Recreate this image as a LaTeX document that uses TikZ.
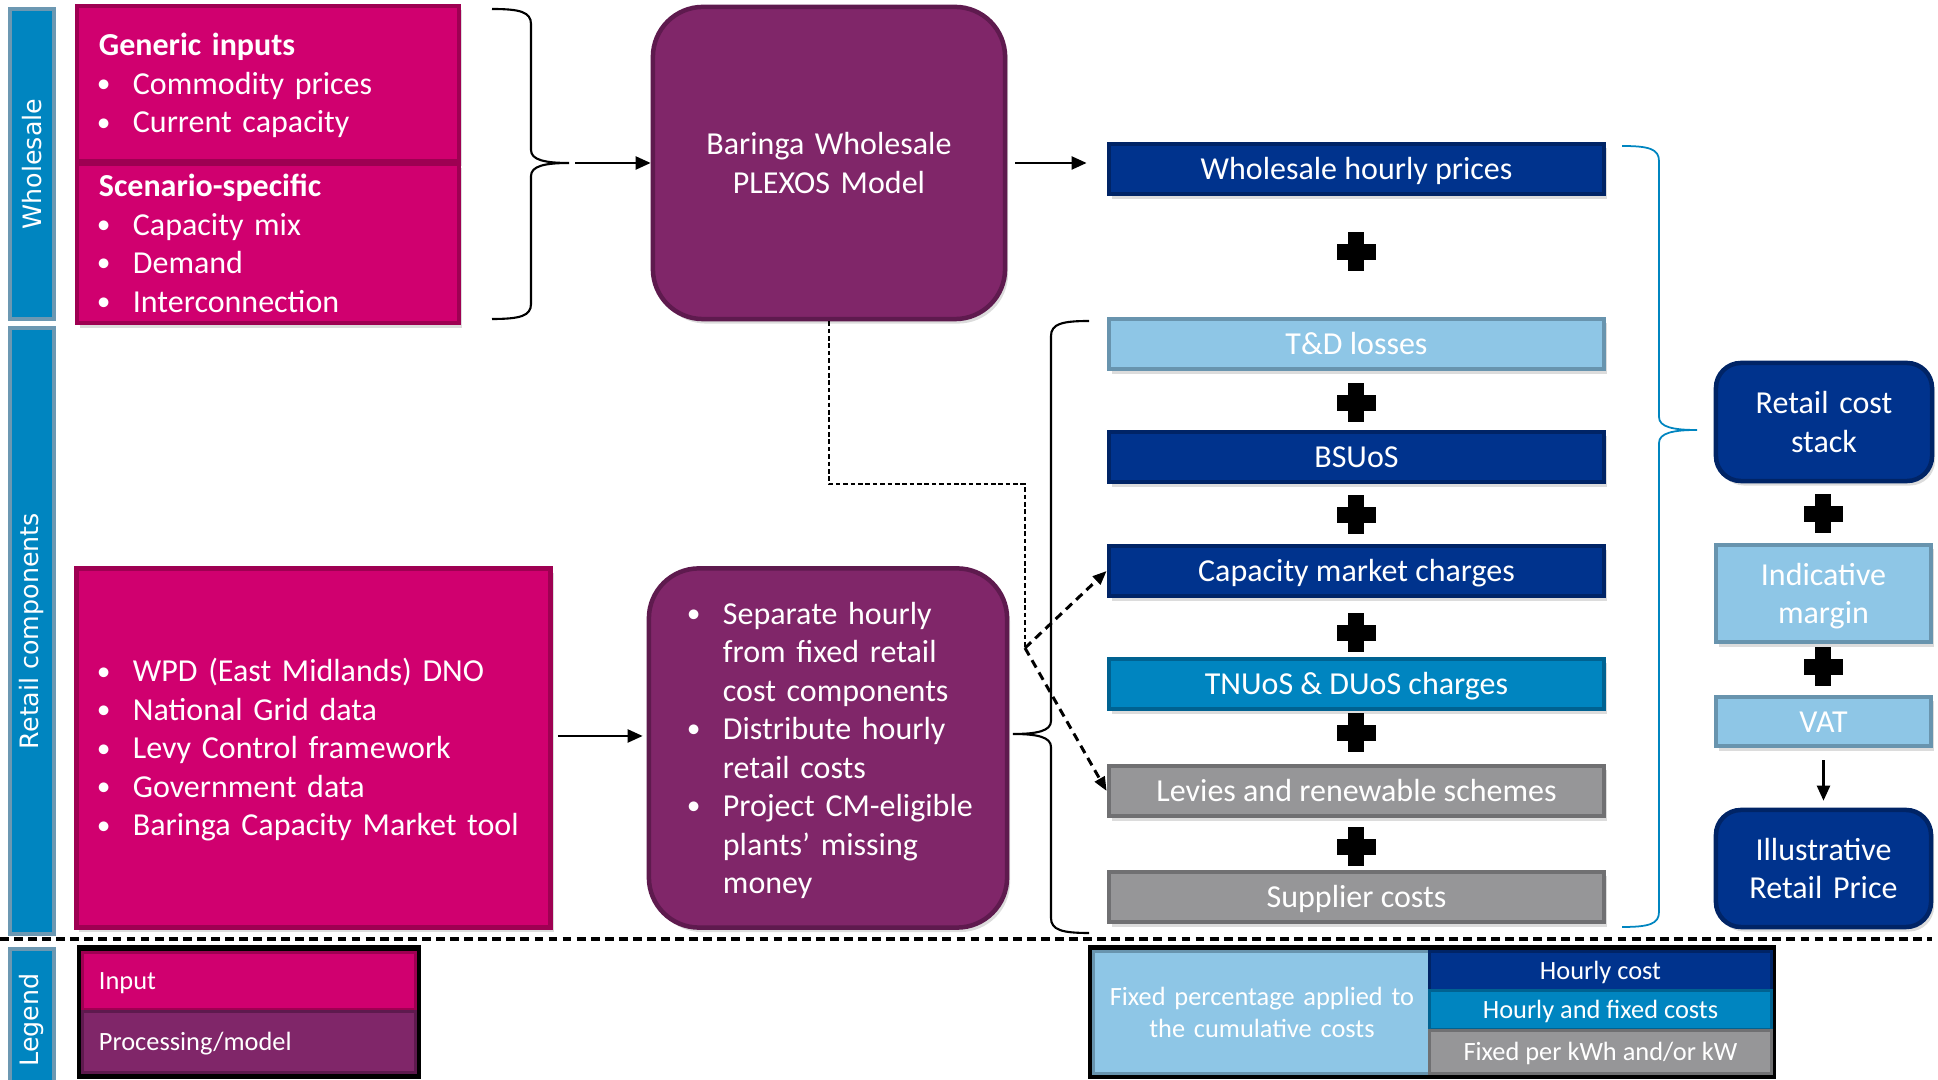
\documentclass[tikz,border=0pt]{standalone}
\usepackage{fontspec}
\setmainfont{Carlito}
\newfontfamily\rotulo{DejaVu Sans}
\usetikzlibrary{arrows.meta,shadows}

\definecolor{cMagenta}{RGB}{208,0,111}
\definecolor{cMagentaB}{RGB}{158,0,82}
\definecolor{cPurpura}{RGB}{128,38,105}
\definecolor{cPurpuraB}{RGB}{94,26,78}
\definecolor{cAzulOsc}{RGB}{0,51,141}
\definecolor{cAzulOscB}{RGB}{0,36,102}
\definecolor{cAzulMed}{RGB}{0,133,192}
\definecolor{cAzulMedB}{RGB}{0,98,145}
\definecolor{cAzulCla}{RGB}{142,198,230}
\definecolor{cAzulClaB}{RGB}{104,148,174}
\definecolor{cGris}{RGB}{150,150,152}
\definecolor{cGrisB}{RGB}{112,112,114}
\definecolor{cBarraB}{RGB}{108,152,178}

\newcommand{\punto}{\makebox[.34cm][l]{\hspace*{-.02cm}\raisebox{.5pt}{\fontsize{7.8}{7.8}\selectfont\textbullet}}}
\newcommand{\sangria}{\hspace*{.34cm}}
% alto y profundidad de la primera y la última línea
\newcommand{\tope}{\rule{0pt}{.952em}}
\newcommand{\fondo}{\rule[-.269em]{0pt}{.269em}}

\tikzset{
  barra/.style={rotate=90, fill=cAzulMed, draw=cBarraB, line width=.04cm, text=white,
    minimum height=.44cm, inner sep=0pt, font=\rotulo\fontsize{7.2}{8}\selectfont},
  caja/.style={line width=.045cm, text=white, inner sep=0pt, font=\fontsize{9.1}{10.95}\selectfont,
    drop shadow={shadow xshift=.03cm, shadow yshift=-.045cm, opacity=.28}},
  linea/.style={text height=8.66pt, text depth=2.45pt},
  entrada/.style={caja, fill=cMagenta, draw=cMagentaB},
  proceso/.style={caja, fill=cPurpura, draw=cPurpuraB, rounded corners=.5cm},
  horaria/.style={caja, fill=cAzulOsc, draw=cAzulOscB},
  mixta/.style={caja, fill=cAzulMed, draw=cAzulMedB},
  fija/.style={caja, fill=cGris, draw=cGrisB},
  porcentaje/.style={caja, fill=cAzulCla, draw=cAzulClaB},
  fila/.style={linea, minimum width=4.95cm, minimum height=.5cm},
  celda/.style={inner sep=0pt, text=white, line width=.03cm, font=\fontsize{7.5}{9.1}\selectfont},
  lineachica/.style={text height=7.14pt, text depth=2.02pt},
  marco/.style={fill=black, inner sep=0pt, minimum height=1.34cm},
  flecha/.style={-{Triangle[length=.15cm,width=.13cm]}, line width=.65pt},
  guia/.style={dash pattern=on 1.3pt off .8pt, line width=.5pt},
  guiaflecha/.style={-{Triangle[length=.14cm,width=.11cm]}, dash pattern=on 2.4pt off 1.6pt, line width=.85pt},
  llave/.style={line width=.6pt},
  llaveazul/.style={line width=.5pt, draw=cAzulMed},
  separador/.style={dash pattern=on 2.5pt off 1.5pt, line width=.9pt},
  mas/.pic={\fill (-19.5,-8) rectangle (19.5,8); \fill (-8,-19.5) rectangle (8,19.5);}
}

\begin{document}
\begin{tikzpicture}[x=.01cm, y=-.01cm]
        \useasboundingbox (0,0) rectangle (1938,1080);

        % Paso 1: Barras laterales de cada sección
        \node[barra, minimum width=3.1cm] (barraW) at (32,164) {Wholesale};
        \node[barra, minimum width=6.06cm] (barraR) at (32,631) {Retail components};
        \node[barra, minimum width=1.42cm] (barraL) at (32,1020) {Legend};

        % Paso 2: Insumos del modelo mayorista
        \node[entrada, minimum width=3.82cm, minimum height=1.55cm, text width=3.38cm, align=left] (generico) at (268,83.5)
            {\tope\textbf{Generic inputs}\\ \punto Commodity prices\\ \punto Current capacity\fondo};
        \node[entrada, minimum width=3.82cm, minimum height=1.59cm, text width=3.38cm, align=left] (escenario) at (268,243.5)
            {\tope\textbf{Scenario-specific}\\ \punto Capacity mix\\ \punto Demand\\ \punto Interconnection\fondo};

        % Paso 3: Llave y flecha hacia el modelo PLEXOS
        \coordinate (puntaW) at (569,163);
        \draw[llave] (492,9) .. controls (520,9) and (531,12) .. (531,24) -- (531,150)
            .. controls (531,160) and (545,163) .. (puntaW)
            .. controls (545,163) and (531,166) .. (531,176) -- (531,304)
            .. controls (531,316) and (520,319) .. (492,319);
        \node[proceso, minimum width=3.52cm, minimum height=3.12cm, text width=3.2cm, align=center] (plexos) at (829,163)
            {\tope Baringa Wholesale\\PLEXOS Model\fondo};
        \draw[flecha, shorten <=.06cm] (puntaW) -- (plexos.west);

        % Paso 4: Insumos y procesamiento minorista
        \node[entrada, minimum width=4.74cm, minimum height=3.59cm, text width=4.29cm, align=left] (insumos) at (313.5,748)
            {\tope\punto WPD (East Midlands) DNO\\ \punto National Grid data\\ \punto Levy Control framework\\
             \punto Government data\\ \punto Baringa Capacity Market tool\fondo};
        \node[proceso, minimum width=3.58cm, minimum height=3.59cm, text width=2.78cm, align=left] (separar) at (828,748)
            {\tope\punto Separate hourly\\ \sangria from fixed retail\\ \sangria cost components\\
             \punto Distribute hourly\\ \sangria retail costs\\ \punto \mbox{Project CM-eligible}\\
             \sangria plants’ missing\\ \sangria money\fondo};
        \draw[flecha, shorten <=.05cm, shorten >=.04cm] ([yshift=.12cm]insumos.east) -- ([yshift=.12cm]separar.west);

        % Paso 5: Pila de costos mayoristas y minoristas
        \node[horaria, fila] (mayorista) at (1356.5,169) {Wholesale hourly prices};
        \node[porcentaje, fila] (perdidas) at (1356.5,344) {T\&D losses};
        \node[horaria, fila] (bsuos) at (1356.5,457) {BSUoS};
        \node[horaria, fila] (capacidad) at (1356.5,571) {Capacity market charges};
        \node[mixta, fila] (redes) at (1356.5,684) {TNUoS \& DUoS charges};
        \node[fija, fila] (gravamenes) at (1356.5,791) {Levies and renewable schemes};
        \node[fija, fila] (proveedor) at (1356.5,897) {Supplier costs};
        \foreach \y in {252,403,515,633,733,847}
            \pic at (1356,\y) {mas};
        \draw[flecha, shorten <=.08cm, shorten >=.2cm] (plexos.east) -- (plexos.east -| mayorista.west);

        % Paso 6: Llave minorista y guías punteadas
        \coordinate (puntaR) at (1013,734);
        \draw[llave] (1089,321) .. controls (1062,321) and (1051,324) .. (1051,336) -- (1051,721)
            .. controls (1051,731) and (1037,734) .. (puntaR)
            .. controls (1037,734) and (1051,737) .. (1051,747) -- (1051,918)
            .. controls (1051,930) and (1062,933) .. (1089,933);
        \coordinate (cruce) at (1025,648);
        \draw[guia] (plexos.south) -- ++(0,163) -| (cruce);
        \draw[guiaflecha] (cruce) -- (capacidad.west);
        \draw[guiaflecha] (cruce) -- (gravamenes.west);

        % Paso 7: Llave azul y precio minorista
        \coordinate (puntaP) at (1697,430);
        \draw[llaveazul] (1622,146) .. controls (1649,146) and (1659,149) .. (1659,161) -- (1659,417)
            .. controls (1659,427) and (1673,430) .. (puntaP)
            .. controls (1673,430) and (1659,433) .. (1659,443) -- (1659,912)
            .. controls (1659,924) and (1649,927) .. (1622,927);
        \node[horaria, rounded corners=.25cm, minimum width=2.16cm, minimum height=1.18cm, text width=2cm, align=center] (pila) at (1824,422)
            {\tope Retail cost\\stack\fondo};
        \node[porcentaje, minimum width=2.15cm, minimum height=.97cm, text width=2cm, align=center] (margen) at (1823.5,593.5)
            {\tope Indicative\\margin\fondo};
        \node[porcentaje, linea, minimum width=2.15cm, minimum height=.49cm] (iva) at (1823.5,721.5) {VAT};
        \node[horaria, rounded corners=.25cm, minimum width=2.15cm, minimum height=1.17cm, text width=2cm, align=center] (precio) at (1823.5,868.5)
            {\tope Illustrative\\Retail Price\fondo};
        \foreach \y in {514,667}
            \pic at (1823,\y) {mas};
        \draw[flecha, shorten <=.12cm, shorten >=.07cm] (iva.south) -- (precio.north);

        % Paso 8: Separador y leyenda
        \draw[separador] (0,939) -- (1932,939);
        \node[marco, minimum width=3.44cm] (marcoE) at (249,1012) {};
        \node[celda, lineachica, fill=cMagenta, draw=cMagentaB, minimum width=3.32cm, minimum height=.57cm, text width=3cm, align=left] (leyInput) at (249,981) {Input};
        \node[celda, lineachica, fill=cPurpura, draw=cPurpuraB, minimum width=3.32cm, minimum height=.61cm, text width=3cm, align=left] (leyProceso) at (249,1042) {Processing/model};
        \node[marco, minimum width=6.88cm] (marcoC) at (1432,1012) {};
        \node[celda, fill=cAzulCla, draw=cAzulClaB, minimum width=3.36cm, minimum height=1.21cm, text width=3.2cm, align=center] (leyPorc) at (1262,1012.5)
            {\tope Fixed percentage applied to\\the cumulative costs\fondo};
        \node[celda, lineachica, fill=cAzulOsc, draw=cAzulOscB, minimum width=3.41cm, minimum height=.38cm] (leyHoraria) at (1600.5,971) {Hourly cost};
        \node[celda, lineachica, fill=cAzulMed, draw=cAzulMedB, minimum width=3.41cm, minimum height=.38cm] (leyMixta) at (1600.5,1010) {Hourly and fixed costs};
        \node[celda, lineachica, fill=cGris, draw=cGrisB, minimum width=3.41cm, minimum height=.42cm] (leyFija) at (1600.5,1052) {Fixed per kWh and/or kW};
\end{tikzpicture}
\end{document}
